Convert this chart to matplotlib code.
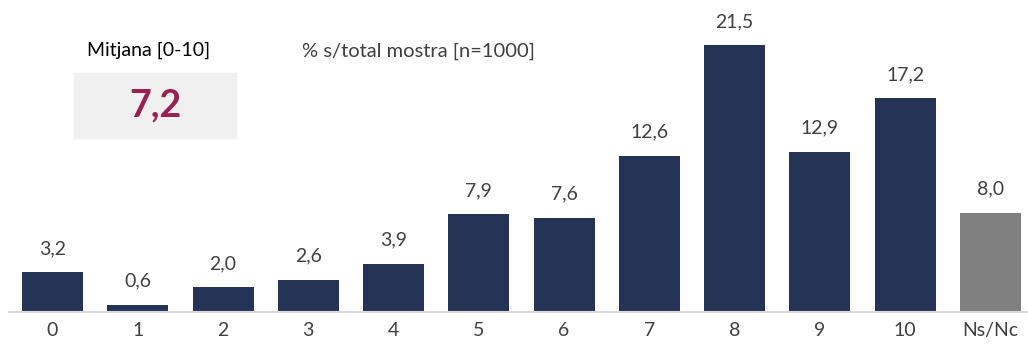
import matplotlib.pyplot as plt
from matplotlib.patches import Rectangle

categories = ['0', '1', '2', '3', '4', '5', '6', '7', '8', '9', '10', 'Ns/Nc']
values = [3.2, 0.6, 2.0, 2.6, 3.9, 7.9, 7.6, 12.6, 21.5, 12.9, 17.2, 8.0]
mean_label = 'Mitjana [0-10]'
mean_value = '7,2'
subtitle = '% s/total mostra [n=1000]'

plt.rcParams['font.family'] = ['Lato', 'DejaVu Sans']

W, H = 1028, 344
fig = plt.figure(figsize=(W / 100, H / 100), dpi=100)
ax = fig.add_axes([9 / W, 32 / H, 1 - 9 / W, 312 / H])

colors = ['#253356'] * (len(categories) - 1) + ['#808080']
x = list(range(len(categories)))
bars = ax.bar(x, values, width=0.715, color=colors)
for b, v in zip(bars, values):
    ax.text(b.get_x() + b.get_width() / 2, v + 1.2, f'{v:.1f}'.replace('.', ','),
            ha='center', va='bottom', fontsize=14, color='#404040')

ax.set_xlim(-0.51, 11.44)
ax.set_ylim(0, 25.12)
ax.set_xticks(x)
ax.set_xticklabels(categories, fontsize=14, color='#404040')
ax.tick_params(axis='x', length=0, pad=7)
ax.set_yticks([])
for s in ['top', 'right', 'left']:
    ax.spines[s].set_visible(False)
ax.spines['bottom'].set_color('#d9d9d9')
ax.spines['bottom'].set_linewidth(1.5)

# mean box
fig.patches.append(Rectangle((74 / W, 1 - 138 / H), 162 / W, 65 / H,
                             transform=fig.transFigure, color='#f0f0f0', zorder=0))
fig.text(149 / W, 1 - 50 / H, mean_label, ha='center', va='center', fontsize=14, color='black')
fig.text(155 / W, 1 - 105 / H, mean_value, ha='center', va='center', fontsize=27,
         fontweight='bold', color='#9b2050')
fig.text(302 / W, 1 - 51 / H, subtitle, ha='left', va='center', fontsize=14.5, color='#404040')

fig.savefig('out.png', dpi=100)
